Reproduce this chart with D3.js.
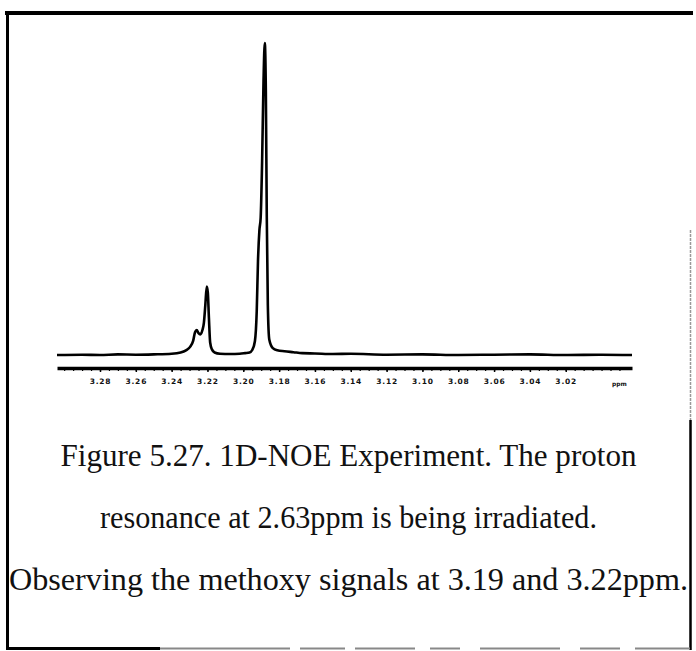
<!DOCTYPE html>
<html>
<head>
<meta charset="utf-8">
<script src="https://cdn.jsdelivr.net/npm/d3@7"></script>
<style>
  html, body { margin: 0; padding: 0; background: #fff; }
  svg { display: block; }
</style>
</head>
<body>
<svg id="fig" width="696" height="651"></svg>
<script>
// 1D-NOE difference spectrum, methoxy region (chemical shift in ppm, relative intensity)
const shiftPpm = [
  3.304, 3.290, 3.280, 3.270, 3.260, 3.250, 3.240, 3.235, 3.232, 3.2297,
  3.2280, 3.2269, 3.2260, 3.2250, 3.2240, 3.2228, 3.2220, 3.2212, 3.2204, 3.2198,
  3.2192, 3.2185, 3.2175, 3.2160, 3.2130, 3.2074, 3.2020, 3.1990, 3.1965,
  3.1950, 3.1935, 3.1925, 3.1918, 3.1910, 3.1903, 3.1895, 3.1887, 3.1880,
  3.1874, 3.1869, 3.1863, 3.1855, 3.1835, 3.1810, 3.1770, 3.1720, 3.1671, 3.1600,
  3.1500, 3.1400, 3.1200, 3.1000, 3.0800, 3.0600, 3.0400, 3.0200, 3.0000, 2.9830
];
const intensity = [
  0.0, 0.1, 0.0, 0.2, 0.1, 0.2, 0.4, 0.8, 1.5, 2.6,
  4.5, 7.4, 8.0, 7.0, 6.6, 8.0, 10.3, 16.0, 21.9, 20.0,
  12.0, 4.0, 1.8, 0.8, 0.4, 0.3, 0.4, 0.6, 0.8,
  1.6, 4.5, 14.0, 30.0, 40.0, 44.0, 62.0, 88.0, 100.0,
  84.0, 45.0, 16.0, 5.0, 2.2, 1.5, 1.2, 0.9, 0.6, 0.5,
  0.3, 0.4, 0.1, 0.2, 0.0, 0.1, 0.2, 0.0, 0.1, 0.0
];

// Axis tick labels (ppm)
const tickPpm = [3.28, 3.26, 3.24, 3.22, 3.20, 3.18, 3.16, 3.14, 3.12, 3.10, 3.08, 3.06, 3.04, 3.02];
const unitLabel = "ppm";
const unitPos = 2.990;

// Caption
const captionLines = [
  "Figure 5.27. 1D-NOE Experiment. The proton",
  "resonance at 2.63ppm is being irradiated.",
  "Observing the methoxy signals at 3.19 and 3.22ppm."
];
// set widths of the caption lines
const captionWidths = [576, 497, 679];

const svg = d3.select("#fig");

// ---- frame around the figure ----
const frame = svg.append("g").attr("class", "frame");
frame.append("line").attr("x1", 5).attr("x2", 693).attr("y1", 13).attr("y2", 13)
  .attr("stroke", "#000").attr("stroke-width", 4);
frame.append("line").attr("x1", 7.5).attr("x2", 7.5).attr("y1", 11).attr("y2", 650)
  .attr("stroke", "#000").attr("stroke-width", 3);
frame.append("line").attr("x1", 690.5).attr("x2", 690.5).attr("y1", 230).attr("y2", 420)
  .attr("stroke", "#999").attr("stroke-width", 1.5).attr("stroke-dasharray", "3,1");
frame.append("line").attr("x1", 690.5).attr("x2", 690.5).attr("y1", 420).attr("y2", 650)
  .attr("stroke", "#000").attr("stroke-width", 2.5);
frame.append("line").attr("x1", 6).attr("x2", 160).attr("y1", 648.5).attr("y2", 648.5)
  .attr("stroke", "#000").attr("stroke-width", 3);
const bottomPieces = [[160, 290], [300, 345], [355, 415], [430, 460], [480, 560], [580, 620], [635, 690]];
frame.selectAll("line.bp").data(bottomPieces).enter().append("line")
  .attr("class", "bp")
  .attr("x1", d => d[0]).attr("x2", d => d[1]).attr("y1", 648.5).attr("y2", 648.5)
  .attr("stroke", "#888").attr("stroke-width", 2);

// ---- spectrum ----
const x = d3.scaleLinear().domain([3.304, 2.983]).range([57, 632]);
const y = d3.scaleLinear().domain([0, 100]).range([355, 43]);

const pts = shiftPpm.map((p, i) => [p, intensity[i]]);
const line = d3.line().x(d => x(d[0])).y(d => y(d[1])).curve(d3.curveMonotoneX);

svg.append("path").datum(pts)
  .attr("d", line)
  .attr("fill", "none")
  .attr("stroke", "#000")
  .attr("stroke-width", 2.6)
  .attr("stroke-linejoin", "round");

// ---- ppm axis ----
const axisY = 368;
const minorTicks = d3.range(0, 64).map(i => +(3.30 - i * 0.005).toFixed(3)).filter(v => v > 2.985);

const axisG = svg.append("g").attr("transform", `translate(0,${axisY})`);
axisG.call(d3.axisBottom(x).tickValues(minorTicks).tickSize(3).tickSizeOuter(0).tickFormat(""));
axisG.select(".domain").attr("stroke", "#000").attr("stroke-width", 3.5);
axisG.selectAll(".tick line").attr("stroke", "#000").attr("stroke-width", 1.2);

const labelG = svg.append("g").attr("transform", `translate(0,${axisY})`);
labelG.call(d3.axisBottom(x).tickValues(tickPpm).tickSize(4).tickFormat(d3.format(".2f")));
labelG.select(".domain").remove();
labelG.selectAll(".tick line").attr("stroke", "#000").attr("stroke-width", 1.5);
labelG.selectAll(".tick text")
  .attr("y", 11)
  .attr("font-family", "DejaVu Sans")
  .attr("font-weight", "bold")
  .attr("font-size", 7.5)
  .attr("letter-spacing", 0.8)
  .attr("fill", "#111");

svg.append("text")
  .attr("x", x(unitPos)).attr("y", axisY + 18)
  .attr("text-anchor", "middle")
  .attr("font-family", "DejaVu Sans").attr("font-weight", "bold")
  .attr("font-size", 6).attr("fill", "#111")
  .text(unitLabel);

// ---- caption ----
const capY = [466, 528, 590];
svg.append("g").selectAll("text").data(captionLines).enter().append("text")
  .attr("x", 348.5)
  .attr("y", (d, i) => capY[i])
  .attr("text-anchor", "middle")
  .attr("font-family", "Liberation Serif, Times New Roman, serif")
  .attr("font-size", 31)
  .attr("textLength", (d, i) => captionWidths[i])
  .attr("lengthAdjust", "spacingAndGlyphs")
  .attr("fill", "#111")
  .text(d => d);
</script>
</body>
</html>
